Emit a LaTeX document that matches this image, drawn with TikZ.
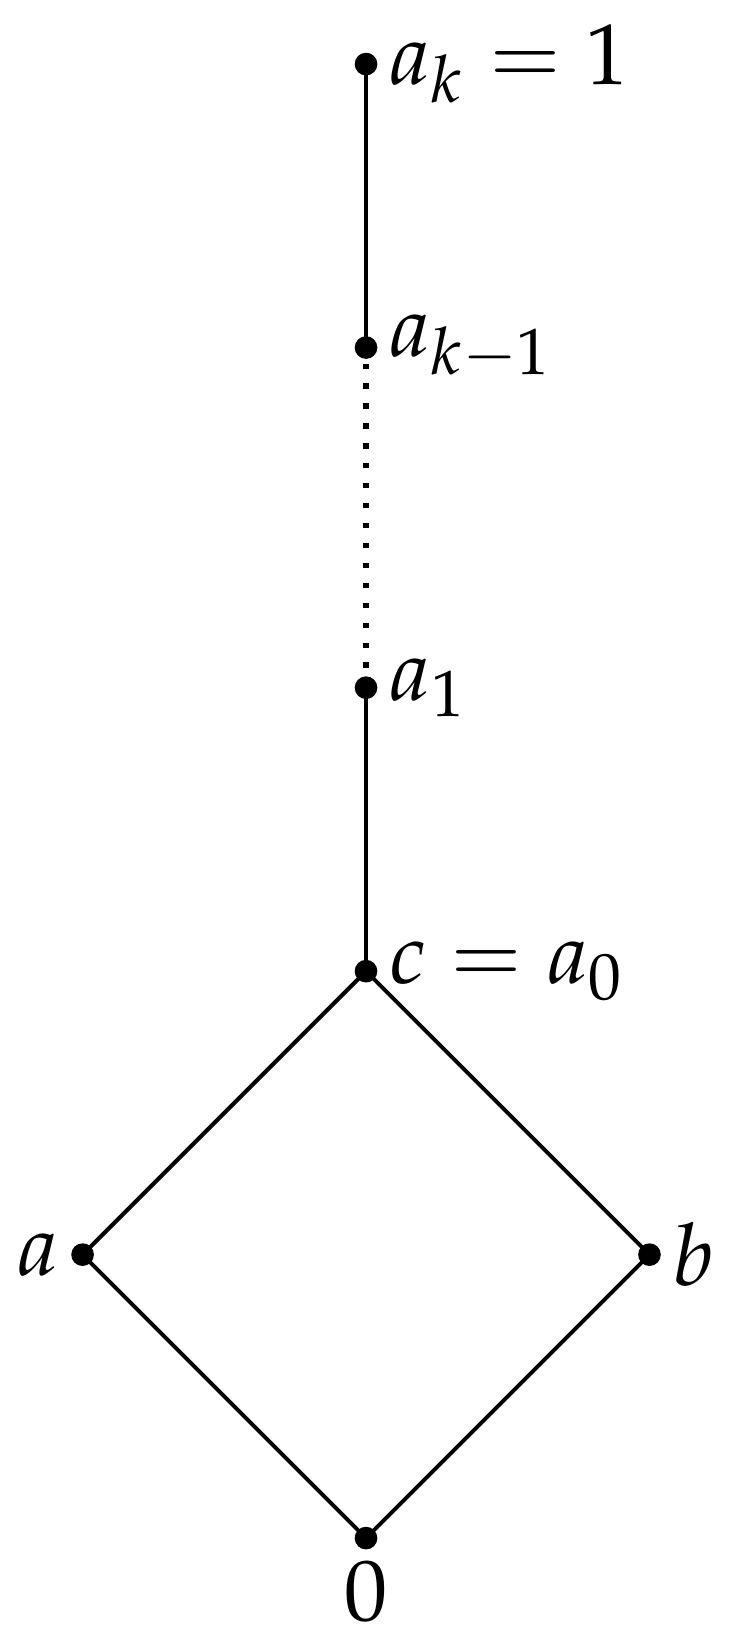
\documentclass[tikz,border=0pt]{standalone}
\usepackage{latexsym, amsmath,amsfonts,amssymb}
\usepackage{mathpazo}
\usepackage{xcolor}
\usepackage{tkz-euclide}
\usetikzlibrary{calc,positioning}

\begin{document}
\begin{tikzpicture}[scale=1.5]
\tkzInit[xmin=-1.3,xmax=1.3,ymin=-0.4,ymax=5.5]
\useasboundingbox (-1.291,-0.370) rectangle (1.308,5.425);
\tkzSetUpLine[line width=0.6pt,color=black]
\tikzset{lbl/.style={font=\fontsize{13}{15}\selectfont,inner sep=3.2pt}}
\tkzDefPoint(0,0){Z}
\tkzDefPoint(-1,1){A}
\tkzDefPoint(1,1){B}
\tkzDefPoint(0,2){C}
\tkzDefPoint(0,3){A1}
\tkzDefPoint(0,4.2){Ak1}
\tkzDefPoint(0,5.2){Ak}
\tkzDrawSegments[line width=0.6pt](Z,A Z,B A,C B,C C,A1 Ak1,Ak)
\draw[line width=0.8pt,line cap=butt,dash pattern=on 0.8pt off 2.2pt] (A1) -- (Ak1);
\tkzDrawPoints[size=2.8,fill=black,line width=0.6pt](Z,A,B,C,A1,Ak1,Ak)
\tkzLabelPoint[right,lbl](Ak){$a_k=1$}
\tkzLabelPoint[right,lbl](Ak1){$a_{k-1}$}
\tkzLabelPoint[right,lbl](A1){$a_1$}
\tkzLabelPoint[right,lbl](C){$c=a_0$}
\tkzLabelPoint[left,lbl](A){$a$}
\tkzLabelPoint[right,lbl](B){$b$}
\tkzLabelPoint[below,lbl](Z){$0$}
\end{tikzpicture}
\end{document}
